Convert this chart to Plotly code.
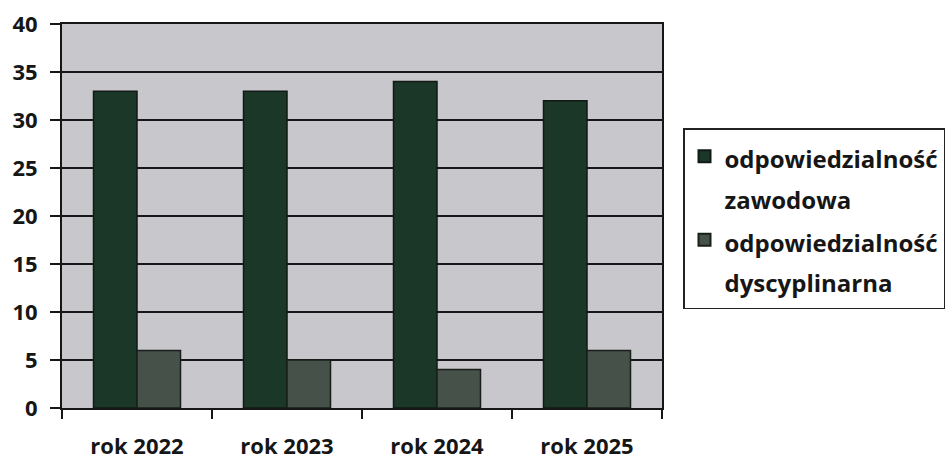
import plotly.graph_objects as go

categories = ["rok 2022", "rok 2023", "rok 2024", "rok 2025"]
zawodowa = [33, 33, 34, 32]
dyscyplinarna = [6, 5, 4, 6]
series_names = ["odpowiedzialność<br>zawodowa", "odpowiedzialność<br>dyscyplinarna"]
y_ticks = [0, 5, 10, 15, 20, 25, 30, 35, 40]

FONT = "Open Sans"
INK = "#161616"


def legend_label(name):
    # keep the text size at 24px while the legend's line height follows a larger font
    return "<br>".join(f"<span style='font-size:24px'>{part}</span>" for part in name.split("<br>"))


fig = go.Figure()
fig.add_trace(go.Bar(x=categories, y=zawodowa, name=legend_label(series_names[0]),
                     marker=dict(color="#1b3727", line=dict(color="#121a15", width=1.5))))
fig.add_trace(go.Bar(x=categories, y=dyscyplinarna, name=legend_label(series_names[1]),
                     marker=dict(color="#46514a", line=dict(color="#181f1a", width=1.5))))

fig.update_layout(
    width=947, height=470,
    margin=dict(l=62, r=285, t=24, b=62, autoexpand=False),
    paper_bgcolor="white",
    plot_bgcolor="#c8c7cc",
    barmode="group",
    bargap=0.42,
    bargroupgap=0.0,
    font=dict(family=FONT, color=INK),
    showlegend=True,
    legend=dict(
        x=1.035, xanchor="left", y=0.729, yanchor="top",
        bgcolor="white", bordercolor="#222", borderwidth=1.5,
        font=dict(family=FONT, size=31, color=INK, weight="bold"),
        itemsizing="constant", valign="top",
    ),
    xaxis=dict(
        automargin=False,
        showline=True, linecolor=INK, linewidth=2, mirror=True,
        ticks="outside", tickson="boundaries", ticklen=9, tickwidth=2, tickcolor=INK,
        tickfont=dict(family=FONT, size=22, color=INK, weight="bold"),
        ticklabelstandoff=18,
        showgrid=False,
    ),
    yaxis=dict(
        automargin=False,
        range=[0, 40], tickvals=y_ticks,
        showline=True, linecolor=INK, linewidth=2, mirror=True,
        ticks="outside", ticklen=10, tickwidth=2, tickcolor=INK,
        tickfont=dict(family=FONT, size=22, color=INK, weight="bold"),
        ticklabelstandoff=8,
        showgrid=True, gridcolor=INK, gridwidth=2,
        zeroline=False,
    ),
)

fig.write_html("out.html", config={"displayModeBar": False},
               post_script="document.body.style.margin='0';document.body.style.overflow='hidden';")
